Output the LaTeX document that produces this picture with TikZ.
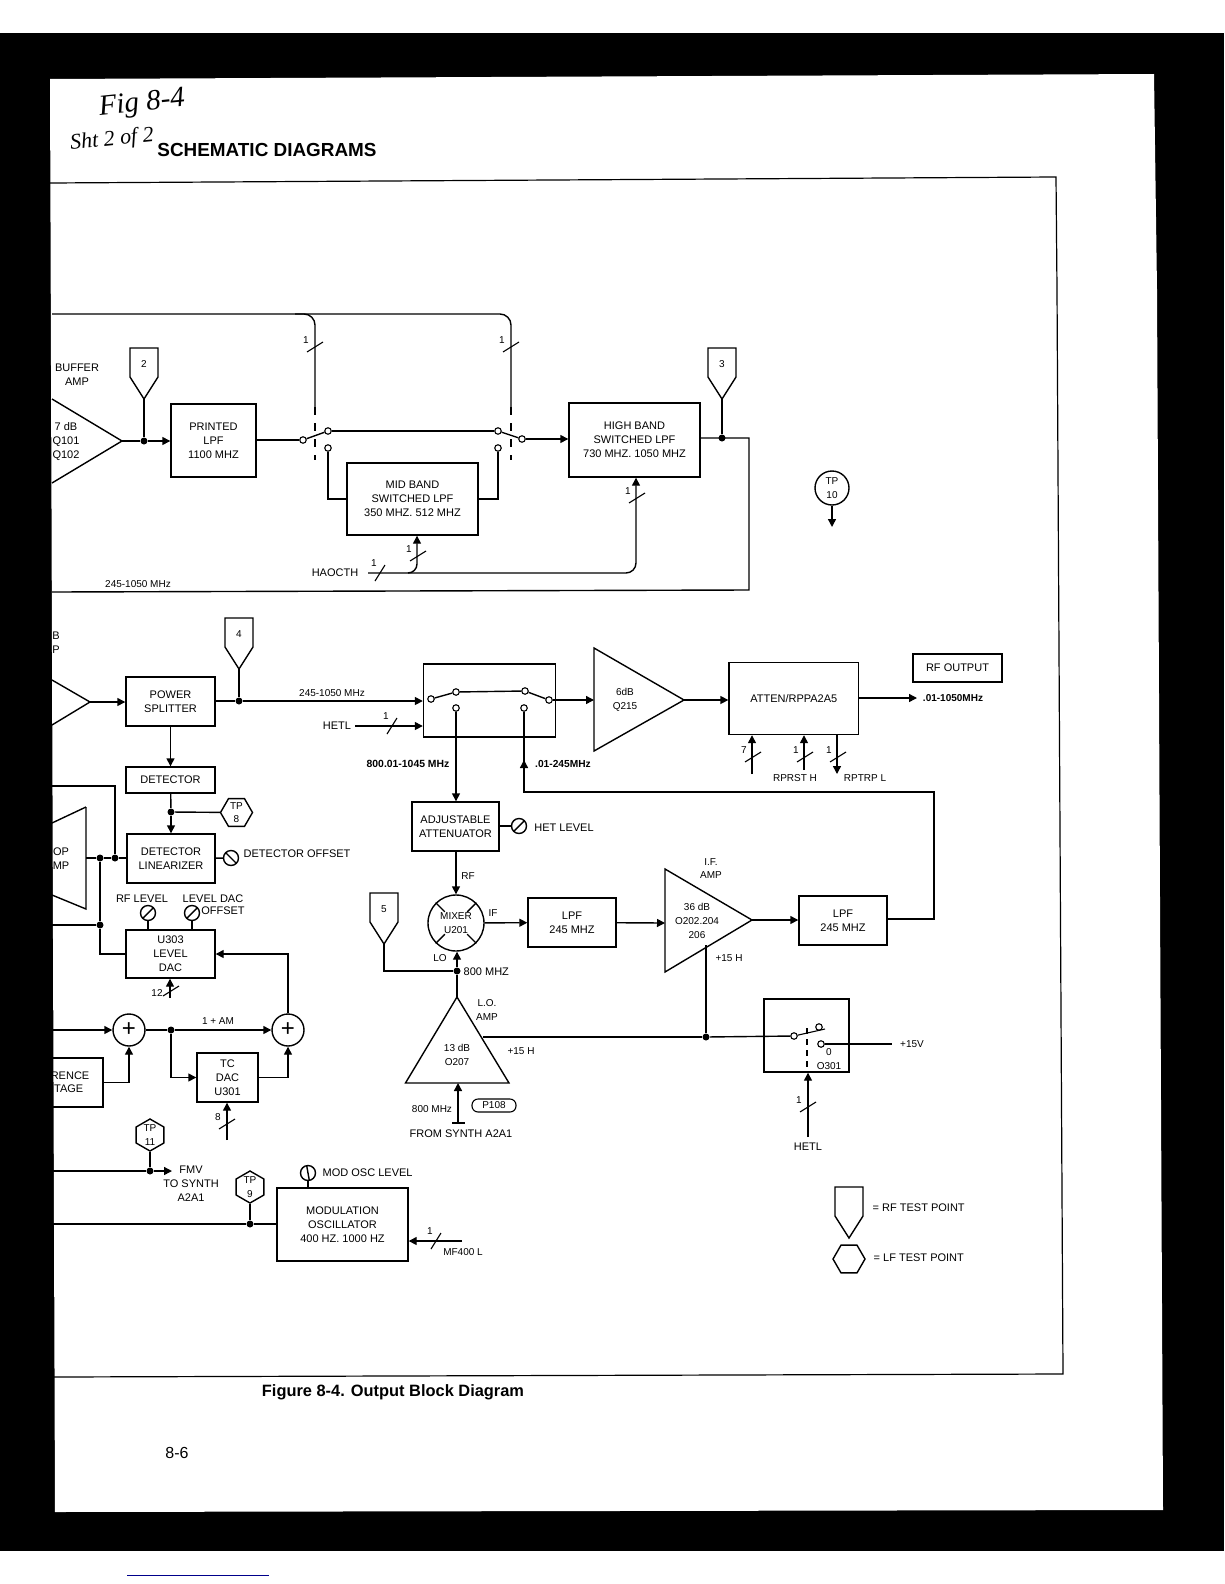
\documentclass[tikz,border=0pt]{standalone}
\usepackage{fontspec}
\setmainfont{Liberation Sans}
\newfontfamily\handfont{Liberation Serif}
\definecolor{scanBlue}{HTML}{00008B}
\usetikzlibrary{shapes.geometric, arrows.meta, calc}

\begin{document}
\begin{tikzpicture}[
    x=1pt, y=-1pt,
    line width=1.4pt,
    block/.style={rectangle, draw, align=center, inner sep=0pt, font=\fontsize{11}{13.8}\selectfont},
    sz/.style 2 args={minimum width=#1pt, minimum height=#2pt},
    txt/.style={align=center, inner sep=0pt, font=\fontsize{11}{13.8}\selectfont},
    sml/.style={align=center, inner sep=0pt, font=\fontsize{10}{13.8}\selectfont},
    bld/.style={align=center, inner sep=0pt, font=\bfseries\fontsize{#1}{12}\selectfont},
    arrow/.style={-{Stealth[length=8pt, width=8pt, inset=0pt]}},
    dot/.style={circle, fill, inner sep=0pt, minimum size=7pt},
    contact/.style={circle, draw, fill=white, inner sep=0pt, minimum size=6.5pt, line width=1.1pt},
    pot/.style={circle, draw, fill=white, inner sep=0pt, minimum size=15pt,
                path picture={\draw ($(path picture bounding box.center)+(#1:9pt)$) -- ($(path picture bounding box.center)+(#1+180:9pt)$);}},
    pot/.default=45,
    summer/.style={circle, draw, inner sep=0pt, minimum size=32pt, font=\fontsize{24}{24}\selectfont},
    hexa/.style={regular polygon, regular polygon sides=6, draw, inner sep=0pt, minimum size=32pt},
    tph/.style={hexa, label={[sml]center:TP\\#1}},
    tpv/.style={tph=#1, shape border rotate=90},
    rftest/.pic={\draw (0,0) -- (14,-22) -- (14,-51) -- (-14,-51) -- (-14,-22) -- cycle;
                 \node[sml] (-num) at (0,-35) {#1};
                 \coordinate (-tip) at (0,0);},
    busw/.pic={\draw[line width=1.1pt] (-8,5) -- (8,-5);
               \node[sml] (-num) at (-9,-7) {#1};},
    busv/.pic={\draw[line width=1.1pt] (-5,8) -- (5,-8);
               \node[sml] (-num) at (-6,-10) {#1};}
]
    % scan
    \fill[white] (0,0) rectangle (1224,1584);
    \fill[black] (0,33) rectangle (1224,1551);
    \fill[white] (50,79) -- (1154,74) -- (1157,290) -- (1163,1510) -- (55,1512) -- cycle;
    \draw[scanBlue, line width=1pt] (127,1575) -- (269,1575);
    \draw[line width=1.2pt] (50,183) -- (1056,177) -- (1057,290) -- (1063,1374) -- (54,1377);

    \node[font=\handfont\itshape\fontsize{29}{29}\selectfont, rotate=6, inner sep=0pt] (handa) at (142,104) {Fig 8-4};
    \node[font=\handfont\itshape\fontsize{22}{22}\selectfont, rotate=6, inner sep=0pt] (handb) at (112,140) {Sht 2 of 2};
    \node[font=\bfseries\fontsize{18.9}{20}\selectfont, inner sep=0pt] (head) at (267,150) {SCHEMATIC DIAGRAMS};
    \node[font=\bfseries\fontsize{16.4}{17}\selectfont, inner sep=0pt] (capt) at (393,1392) {Figure 8-4. Output Block Diagram};
    \node[font=\fontsize{16}{18}\selectfont, inner sep=0pt] (pageno) at (177,1453) {8-6};

    % top row
    \node[txt] (bufa) at (77,374.5) {BUFFER\\AMP};
    \node[txt] (bufb) at (66,441.5) {7 dB\\Q101\\Q102};
    \draw (52,399) -- (122,441) -- (52,483);
    \coordinate (bufout) at (122,441);
    \node[block, sz={85}{73}] (plpf) at (213.5,440.5) {PRINTED\\LPF\\1100 MHZ};
    \node[dot] (jtwo) at (144,441) {};
    \pic (tptwo) at (144,399) {rftest=2};
    \draw (bufout) -- (jtwo);
    \draw (tptwo-tip) -- (jtwo);
    \draw[arrow] (jtwo) -- (plpf.west |- jtwo);

    \coordinate (busa) at (52,314);
    \coordinate (busb) at (315,314);
    \coordinate (busm) at (295,314);
    \coordinate (busc) at (511,314);
    \coordinate (gangl) at (315,407);
    \coordinate (gangr) at (511,407);
    \coordinate (ganglb) at (315,460);
    \coordinate (gangrb) at (511,460);
    \draw[rounded corners=11pt] (busa) -- (busb) -- (gangl);
    \draw[rounded corners=11pt] (busm) -- (busc) -- (gangr);
    \draw[dashed, dash pattern=on 8pt off 8pt] (gangl) -- (ganglb);
    \draw[dashed, dash pattern=on 8pt off 8pt] (gangr) -- (gangrb);
    \pic at (315,347) {busw=1};
    \pic at (511,347) {busw=1};

    \node[contact] (ca) at (303,440) {};
    \node[contact] (cb) at (328,431) {};
    \node[contact] (cc) at (328,448) {};
    \node[contact] (cd) at (498,431) {};
    \node[contact] (ce) at (498,448) {};
    \node[contact] (cf) at (522,439) {};
    \draw (plpf.east |- ca) -- (ca);
    \draw (ca) -- (cb);
    \draw (cb) -- (cd);
    \draw (cd) -- (cf);
    \node[block, sz={131}{72}] (mlpf) at (412.5,499) {MID BAND\\SWITCHED LPF\\350 MHZ. 512 MHZ};
    \draw (cc) |- (mlpf.west);
    \draw (ce) |- (mlpf.east);
    \node[block, sz={131}{74}] (hlpf) at (634.5,440) {HIGH BAND\\SWITCHED LPF\\730 MHZ. 1050 MHZ};
    \draw[arrow] (cf) -- (hlpf.west |- cf);
    \node[dot] (jthree) at (722,438) {};
    \pic (tpthree) at (722,399) {rftest=3};
    \draw (tpthree-tip) -- (jthree);
    \coordinate (retr) at (749,438);
    \coordinate (retb) at (749,590);
    \coordinate (retl) at (52,592);
    \draw (hlpf.east |- jthree) -- (retr) -- (retb) -- (retl);
    \node[sml] (fbq) at (138,584) {245-1050 MHz};

    \node[txt] (haoc) at (335,573) {HAOCTH};
    \coordinate (haocs) at (368,573);
    \coordinate (haocb) at (636,573);
    \coordinate (haocm) at (417,573);
    \draw[arrow, rounded corners=10pt] (haocs) -- (haocb) -- (hlpf.south -| haocb);
    \draw[arrow, rounded corners=9pt] (408,573) -- (haocm) -- (mlpf.south -| haocm);
    \pic at (380,573) {busv=1};
    \pic at (418,556) {busw=1};
    \pic at (637,498) {busw=1};

    \node[circle, draw, inner sep=0pt, minimum size=34pt, sml] (tpten) at (832,488) {TP\\10};
    \coordinate (tptenb) at (832,527);
    \draw[arrow] (tpten) -- (tptenb);

    % middle row
    \node[txt] (ampb) at (56,643) {B\\P};
    \draw (52,680) -- (90,702) -- (52,725);
    \coordinate (ampout) at (90,702);
    \node[block, sz={89}{49}] (split) at (170.5,701.5) {POWER\\SPLITTER};
    \draw[arrow] (ampout) -- (split.west |- ampout);
    \node[dot] (jfour) at (239,701) {};
    \pic (tpfour) at (239,669) {rftest=4};
    \draw (tpfour-tip) -- (jfour);
    \node[block, sz={132}{73}] (swa) at (489.5,700.5) {};
    \draw (split.east |- jfour) -- (jfour);
    \draw[arrow] (jfour) -- (swa.west |- jfour);
    \node[sml] (rfq) at (332,693) {245-1050 MHz};
    \node[txt] (hetl) at (337,726) {HETL};
    \coordinate (hets) at (355,726);
    \draw[arrow] (hets) -- (swa.west |- hets);
    \pic at (392,726) {busv=1};

    \node[contact] (sa) at (431,699) {};
    \node[contact] (sb) at (456,692) {};
    \node[contact] (sc) at (456,708) {};
    \node[contact] (sd) at (525,691) {};
    \node[contact] (se) at (524,708) {};
    \node[contact] (sf) at (549,700) {};
    \draw (sa) -- (sb);
    \draw (sb) -- (sd);
    \draw (sd) -- (sf);

    \draw (594,648) -- (684,700) -- (594,751) -- cycle;
    \coordinate (rfin) at (594,700);
    \coordinate (rfout) at (684,700);
    \node[sml] (rfamp) at (625,700) {6dB\\Q215};
    \draw[arrow] (sf) -- (rfin);
    \node[block, sz={129.5}{72}] (attn) at (793.8,698.5) {ATTEN/RPPA2A5};
    \draw[arrow] (rfout) -- (attn.west |- rfout);
    \node[block, sz={89}{28}] (rfbox) at (957.5,668) {RF OUTPUT};
    \coordinate (outa) at (917,698);
    \draw[arrow] (attn.east |- outa) -- (outa);
    \node[bld=10] (outq) at (953,698) {.01-1050MHz};
    \coordinate (atna) at (752,774);
    \coordinate (atnb) at (804,770);
    \coordinate (atnc) at (837,774);
    \draw[arrow] (atna) -- (attn.south -| atna);
    \draw[arrow] (atnb) -- (attn.south -| atnb);
    \draw[arrow] (attn.south -| atnc) -- (atnc);
    \pic at (753,757) {busw=7};
    \pic at (805,757) {busw=1};
    \pic at (838,757) {busw=1};
    \node[sml] (rpst) at (795,778) {RPRST H};
    \node[sml] (rptp) at (865,778) {RPTRP L};

    \node[block, sz={87}{49}] (adja) at (455.5,826.5) {ADJUSTABLE\\ATTENUATOR};
    \draw[arrow] (sc) -- (adja.north -| sc);
    \node[bld=10.4] (hetq) at (408,764) {800.01-1045 MHz};
    \node[bld=10.2] (lowq) at (563,764) {.01-245MHz};
    \node[pot] (hetp) at (519,826) {};
    \draw (adja.east |- hetp) -- (hetp);
    \node[txt] (hetn) at (564,828) {HET LEVEL};

    \node[circle, draw, inner sep=0pt, minimum size=56pt, sml] (mix) at (456,923) {MIXER\\U201};
    \foreach \a in {45,135,225,315}
        \draw ($(mix)!0.55!(mix.\a)$) -- (mix.\a);
    \draw[arrow] (adja.south -| mix) -- (mix);
    \node[sml] (rfl) at (468,876) {RF};
    \node[sml] (ifl) at (493,913) {IF};
    \node[block, sz={88}{49}] (lpfa) at (572,922.5) {LPF\\245 MHZ};
    \draw[arrow] (mix) -- (lpfa);
    \draw (665,869) -- (752,920) -- (665,972) -- cycle;
    \coordinate (ifin) at (665,923);
    \coordinate (ifout) at (752,920);
    \coordinate (ifpwr) at (706,945);
    \draw[arrow] (lpfa) -- (ifin);
    \node[sml] (ifamp) at (697,921) {36 dB\\O202.204\\206};
    \node[sml] (ifn) at (711,868.5) {I.F.\\AMP};
    \node[block, sz={88}{49}] (lpfb) at (843,920.5) {LPF\\245 MHZ};
    \draw[arrow] (ifout) -- (lpfb.west |- ifout);
    \coordinate (fbr) at (934,919);
    \coordinate (fbt) at (934,792);
    \coordinate (fbm) at (524,760);
    \coordinate (fbl) at (524,792);
    \draw (lpfb.east |- fbr) -- (fbr) -- (fbt) -- (fbl) -- (se);
    \draw[arrow] (fbl) -- (fbm);
    \node[sml] (ifv) at (729,958) {+15 H};

    % left side
    \draw (86,807) -- (86,909) -- (52,895);
    \draw (52,823) -- (86,807);
    \node[txt] (loop) at (61,859) {OP\\MP};
    \coordinate (loopout) at (86,858);
    \node[block, sz={89}{26}] (dete) at (170.5,780) {DETECTOR};
    \node[block, sz={88}{49}] (dlin) at (171,858.5) {DETECTOR\\LINEARIZER};
    \node[dot] (jlin) at (171,812) {};
    \node[dot] (jleft) at (100,858) {};
    \node[dot] (jtop) at (115,858) {};
    \draw[arrow] (split.south -| dete) -- (dete);
    \draw (dete) -- (jlin);
    \draw[arrow] (jlin) -- (dlin);
    \node[tph=8] (tpeight) at (236.5,812.5) {};
    \draw (jlin) -- (tpeight);
    \draw (loopout) -- (jleft);
    \draw (jleft) -- (jtop);
    \draw (jtop) -- (dlin.west |- jtop);
    \coordinate (loopt) at (115,786);
    \coordinate (loopl) at (52,786);
    \draw (jtop) -- (loopt) -- (loopl);
    \node[pot=135] (dpot) at (231,858) {};
    \draw (dlin) -- (dpot);
    \node[txt, anchor=west] (dnam) at (243,854) {DETECTOR OFFSET};

    \node[block, sz={89}{48}] (ldac) at (170.5,954) {U303\\LEVEL\\DAC};
    \node[dot] (jdac) at (100,925) {};
    \coordinate (dacl) at (52,925);
    \draw (jleft) -- (jdac);
    \draw (dacl) -- (jdac);
    \draw (jdac) |- (ldac.west);
    \node[txt] (rfln) at (142,899) {RF LEVEL};
    \node[txt] (dacn) at (213,899) {LEVEL DAC};
    \node[txt] (dacf) at (223,911) {OFFSET};
    \node[pot] (rpot) at (148,913) {};
    \node[pot] (opot) at (192,913) {};
    \draw (rpot) -- (ldac.north -| rpot);
    \draw (opot) -- (ldac.north -| opot);
    \coordinate (dacb) at (170,998);
    \draw[arrow] (dacb) -- (ldac.south -| dacb);
    \pic at (171,991) {busw={}};
    \node[sml] (twelve) at (157,993) {12};

    \node[summer] (suma) at (129,1030) {+};
    \node[summer] (sumb) at (288,1030) {+};
    \coordinate (suml) at (52,1030);
    \node[dot] (jam) at (171,1030) {};
    \draw[arrow] (suml) -- (suma);
    \draw (suma) -- (jam);
    \draw[arrow] (jam) -- (sumb);
    \node[sml] (amn) at (218,1021) {1 + AM};
    \draw[arrow] (sumb) |- (ldac.east);
    \node[block, sz={61}{49}] (tdac) at (227.5,1077.5) {TC\\DAC\\U301};
    \draw[arrow] (jam) |- (tdac.west);
    \draw[arrow] (tdac.east) -| (sumb);
    \node[block, sz={51}{49}] (refv) at (77.5,1082.5) {};
    \node[txt, anchor=east] (refa) at (90,1076) {RENCE};
    \node[txt, anchor=east] (refb) at (84,1089) {TAGE};
    \draw[arrow] (refv.east) -| (suma);
    \coordinate (tcb) at (227,1140);
    \draw[arrow] (tcb) -- (tdac.south -| tcb);
    \pic at (227,1124) {busw=8};

    \node[tpv=11] (tpel) at (150,1135) {};
    \node[dot] (jfmv) at (150,1171) {};
    \coordinate (fmvl) at (52,1171);
    \coordinate (fmvr) at (172,1171);
    \draw (tpel) -- (jfmv);
    \draw (fmvl) -- (jfmv);
    \draw[arrow] (jfmv) -- (fmvr);
    \node[txt] (fmvn) at (191,1184) {FMV\\TO SYNTH\\A2A1};

    \node[tpv=9] (tpnine) at (250,1187) {};
    \node[dot] (jmod) at (250,1224) {};
    \coordinate (modl) at (52,1224);
    \node[block, sz={131}{73}] (mosc) at (342.5,1224.5) {MODULATION\\OSCILLATOR\\400 HZ. 1000 HZ};
    \draw (tpnine) -- (jmod);
    \draw (modl) -- (jmod);
    \draw (jmod) -- (mosc.west |- jmod);
    \node[pot=100] (mpot) at (308,1173) {};
    \draw (mpot) -- (mosc.north -| mpot);
    \node[txt, anchor=west] (mnam) at (322,1173) {MOD OSC LEVEL};
    \coordinate (mfr) at (462,1241);
    \draw[arrow] (mfr) -- (mosc.east |- mfr);
    \pic at (436,1241) {busv=1};
    \node[sml] (mfn) at (463,1252) {MF400 L};

    % lower middle
    \pic (tpfive) at (384,944) {rftest=5};
    \node[dot] (jlo) at (457,971) {};
    \draw (tpfive-tip) |- (jlo);
    \draw[arrow] (jlo) -- (mix.south -| jlo);
    \node[sml] (lol) at (440,958) {LO};
    \node[txt, anchor=west] (lon) at (463,972) {800 MHZ};
    \draw (457,997) -- (509,1083) -- (405.5,1083) -- cycle;
    \coordinate (loapex) at (457,997);
    \coordinate (lopwr) at (483,1037);
    \coordinate (lobase) at (458,1083);
    \draw (jlo) -- (loapex);
    \node[sml] (loamp) at (457,1055) {13 dB\\O207};
    \node[sml] (lotxt) at (487,1010) {L.O.\\AMP};
    \node[sml] (lov) at (521,1051) {+15 H};
    \coordinate (lofoot) at (458,1123);
    \draw[arrow] (lofoot) -- (lobase);
    \draw[line width=1.1pt] ([xshift=-6pt]lofoot) -- ([xshift=7pt]lofoot);
    \node[sml] (loq) at (432,1109) {800 MHz};
    \node[rectangle, draw, rounded corners=6pt, line width=1.1pt, inner sep=0pt, sz={44}{13}, sml] (pcon) at (494,1105.5) {P108};
    \node[txt] (losy) at (461,1134) {FROM SYNTH A2A1};

    \node[dot] (jpwr) at (706,1037) {};
    \node[block, sz={85}{73}] (swb) at (806.5,1035.5) {};
    \node[contact] (pa) at (794,1036) {};
    \node[contact] (pb) at (819,1027) {};
    \node[contact] (pc) at (821,1044) {};
    \coordinate (pd) at (892,1044);
    \draw (lopwr) -- (jpwr);
    \draw (jpwr) -- (pa);
    \draw (ifpwr) -- (jpwr);
    \draw[line width=1.1pt] (pa) -- (825,1029);
    \draw (pc) -- (pd);
    \draw[dashed, dash pattern=on 6pt off 5pt] (807,1028) -- (swb.south -| 807,1028);
    \node[sml] (zero) at (829,1052) {0};
    \node[sml] (qsw) at (829,1066) {O301};
    \node[sml] (vpl) at (912,1044) {+15V};
    \coordinate (hetb) at (808,1137);
    \draw[arrow] (hetb) -- (swb.south -| hetb);
    \pic at (808,1107) {busw=1};
    \node[txt] (hetn2) at (808,1147) {HETL};

    % legend
    \pic at (849,1238) {rftest={}};
    \node[txt, anchor=west] (lega) at (872,1208) {= RF TEST POINT};
    \node[hexa] (legb) at (849,1259) {};
    \node[txt, anchor=west] (legc) at (873,1258) {= LF TEST POINT};
\end{tikzpicture}
\end{document}
